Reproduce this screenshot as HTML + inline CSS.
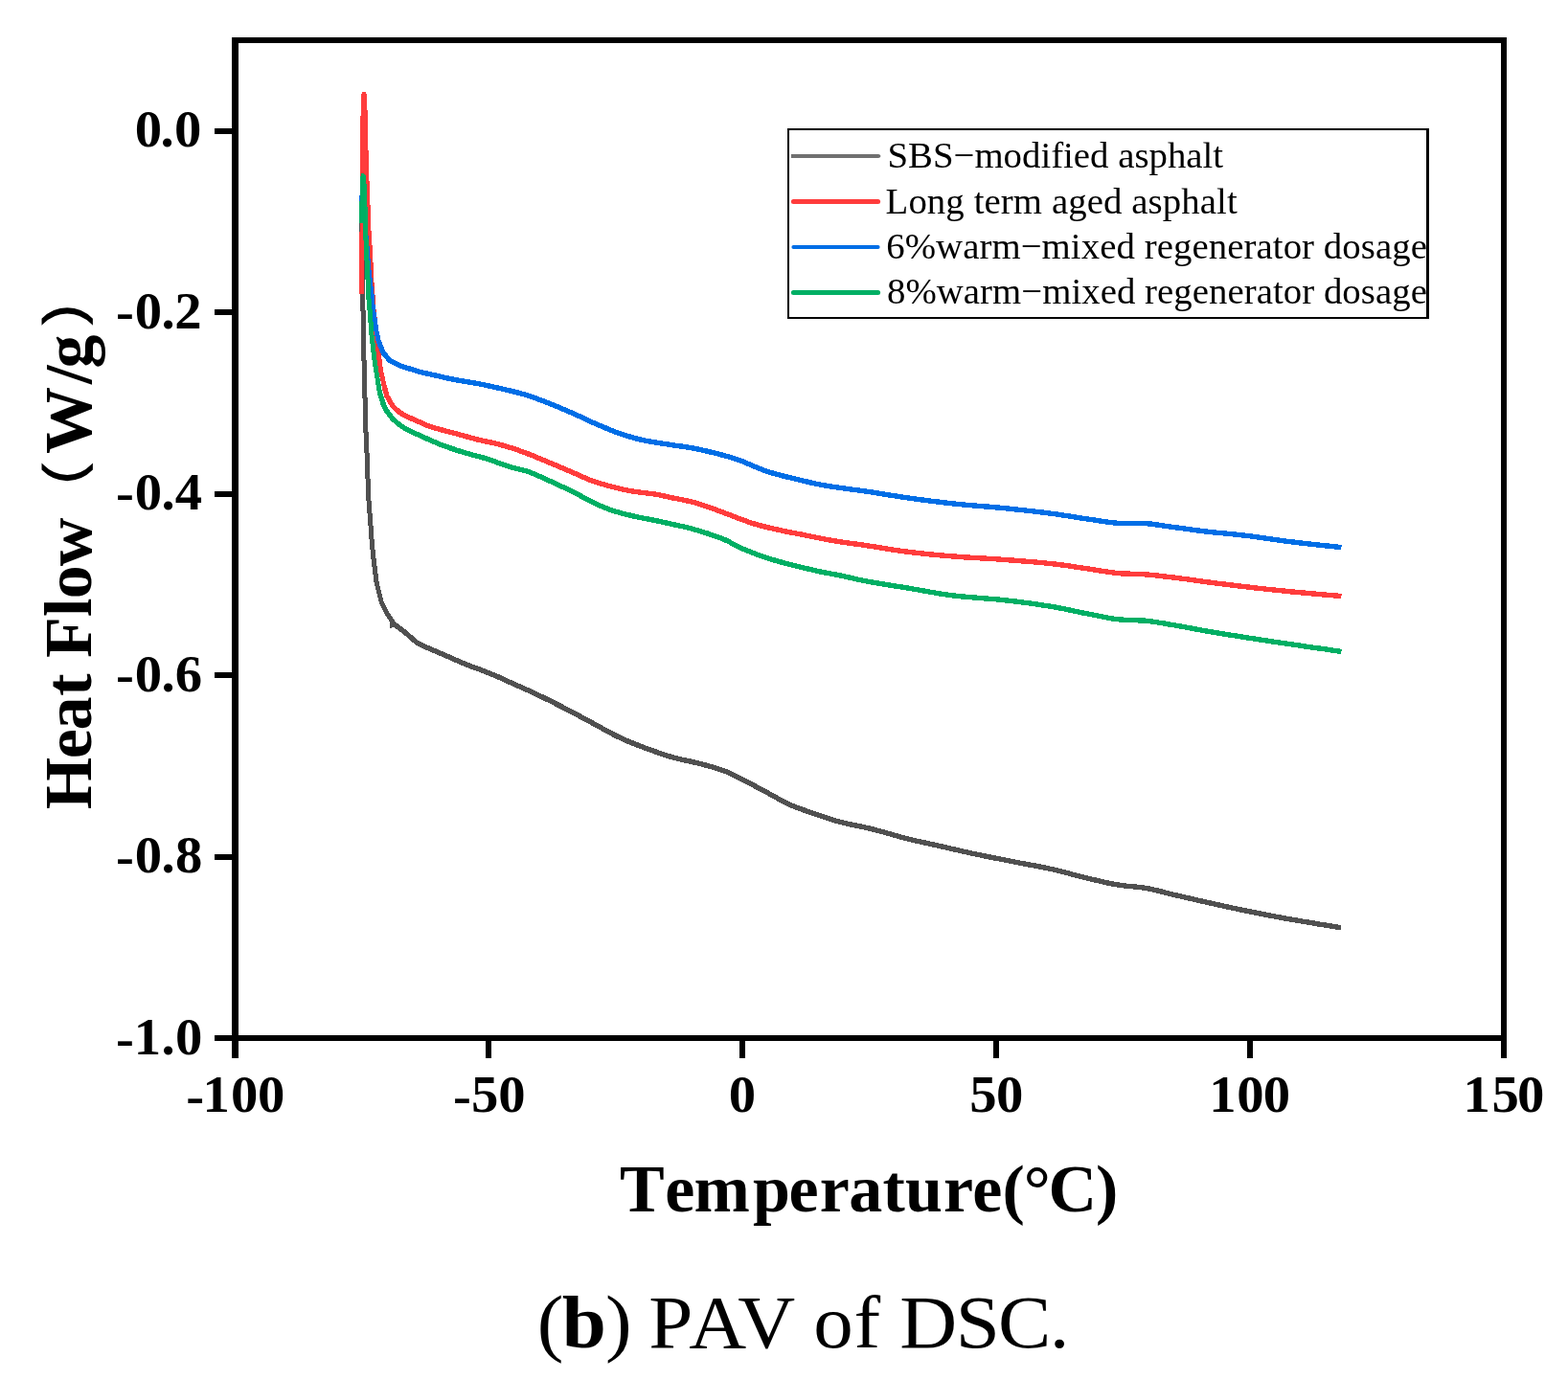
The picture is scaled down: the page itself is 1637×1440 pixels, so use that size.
<!DOCTYPE html>
<html lang="en">
<head>
<meta charset="utf-8">
<title>(b) PAV of DSC.</title>
<style>
html,body{margin:0;padding:0;background:#fff;}
body{width:1637px;height:1440px;}
svg{display:block;}
text{font-family:"Liberation Serif","Noto Serif CJK SC",serif;fill:#000;font-kerning:none;}
.b{font-weight:bold;}
</style>
</head>
<body>
<svg width="1637" height="1440" viewBox="0 0 1637 1440" role="img" aria-label="DSC heat flow versus temperature, PAV aged asphalt">
<rect x="0" y="0" width="1637" height="1440" fill="#fff"/>
<g fill="none" stroke="#505050" stroke-linejoin="round" stroke-linecap="butt" shape-rendering="crispEdges">
<polyline stroke-width="5" points="377.6,233 377.6,244 378.5,262 378.5,322 379.5,327 379.5,374 380.5,379 380.5,413 381.5,418 381.6,440 382.2,456.7 383.4,481.1 384.6,517.8 386.5,542.2 388.3,566.7 390.1,584.4 393.2,608.9 398.1,628.5 404.8,641.9 409.1,648 409.3,655.5"/>
<polyline stroke-width="5.4" points="409.3,655 409.5,652 411.5,651.7 425.6,662.5 430.6,667.3 435.6,671.3 440.6,674 445.6,676.1 450.6,678.3 455.6,680.4 460.6,682.6 465.6,684.7 470.6,686.9 475.6,689.1 480.6,691.3 485.6,693.4 490.6,695.4 495.6,697.2 500.6,699 505.6,700.9 510.5,702.8 515.5,704.9 520.5,707 525.5,709.3 530.5,711.6 535.5,713.9 540.5,716.1 545.5,718.3 550.5,720.5 555.5,722.8 560.5,725.1 565.5,727.5 570.5,730 575.5,732.4 580.5,735 585.5,737.5 590.5,740.1 595.5,742.7 600.5,745.3 605.5,748 610.5,750.7 615.5,753.4 620.5,756.1 625.5,758.8 630.5,761.6 635.5,764.3 640.5,767 645.5,769.5 650.5,771.8 655.5,774 660.5,776 665.5,778 670.4,779.9 675.4,781.7 680.4,783.6 685.4,785.3 690.4,787.1 695.4,788.7 700.4,790.3 705.4,791.6 710.4,792.9 715.4,794 720.4,795 725.4,796.2 730.4,797.4 735.4,798.7 740.4,800 745.4,801.5 750.4,803 755.4,804.7 760.4,806.6 765.4,809 770.4,811.6 775.4,814.3 780.4,816.9 785.4,819.4 790.4,822 795.4,824.6 800.4,827.3 805.4,830.1 810.4,832.9 815.4,835.7 820.4,838.3 825.4,840.6 830.4,842.6 835.3,844.5 840.3,846.3 845.3,848 850.3,849.8 855.3,851.5 860.3,853.2 865.3,854.9 870.3,856.4 875.3,857.9 880.3,859.1 885.3,860.3 890.3,861.4 895.3,862.4 900.3,863.4 905.3,864.5 910.3,865.7 915.3,867 920.3,868.3 925.3,869.8 930.3,871.2 935.3,872.6 940.3,874 945.3,875.3 950.3,876.6 955.3,877.8 960.3,878.9 965.3,880 970.3,881.1 975.3,882.2 980.3,883.3 985.3,884.4 990.3,885.6 995.2,886.7 1000.2,887.8 1005.2,889 1010.2,890.1 1015.2,891.2 1020.2,892.2 1025.2,893.3 1030.2,894.3 1035.2,895.3 1040.2,896.3 1045.2,897.2 1050.2,898.2 1055.2,899.2 1060.2,900.2 1065.2,901.2 1070.2,902.1 1075.2,903.1 1080.2,904 1085.2,905 1090.2,906 1095.2,907 1100.2,908.1 1105.2,909.3 1110.2,910.6 1115.2,911.9 1120.2,913.3 1125.2,914.6 1130.2,915.9 1135.2,917.1 1140.2,918.3 1145.2,919.4 1150.2,920.6 1155.2,921.7 1160.1,922.7 1165.1,923.6 1170.1,924.5 1175.1,925.1 1180.1,925.6 1185.1,926 1190.1,926.5 1195.1,927.2 1200.1,928.1 1205.1,929.2 1210.1,930.4 1215.1,931.7 1220.1,933 1225.1,934.2 1230.1,935.4 1235.1,936.5 1240.1,937.7 1245.1,938.8 1250.1,940 1255.1,941.1 1260.1,942.3 1265.1,943.4 1270.1,944.5 1275.1,945.6 1280.1,946.7 1285.1,947.8 1290.1,948.8 1295.1,949.9 1300.1,950.9 1305.1,951.9 1310.1,952.9 1315.1,953.9 1320,954.9 1325,955.9 1330,956.8 1335,957.8 1340,958.7 1345,959.6 1350,960.5 1355,961.3 1360,962.2 1365,963 1370,963.8 1375,964.7 1380,965.5 1385,966.3 1390,967.1 1395,968 1400,968.8"/>
</g>
<g fill="none" stroke="#ff3c3c" stroke-linejoin="round" stroke-linecap="butt" shape-rendering="crispEdges">
<polyline stroke-width="5" points="377.6,306.5 377.6,244 378.5,240 378.5,123 379.6,119 379.6,100 380.1,98.3 380.5,100 380.5,113 381.5,117 381.5,156 382.6,160 382.6,187 383.5,191 383.5,212 384.5,216 384.5,239 385.4,243 385.4,254 386.3,258 386.3,272 387.5,276 387.5,293 388.3,297 388.3,306 389.5,310 389.5,321 390.3,325 390.3,329 391.5,333 392.3,344 394.3,362.3 397.5,386.8 401.6,405.1 404,413.6"/>
<polyline stroke-width="5.4" points="401.6,405.1 404,413.6 407.5,420 410.5,424.6 413.3,427.3 418.3,431.3 423.3,434.1 428.3,436.5 433.3,438.6 438.3,440.9 443.4,443.2 448.4,445.2 453.4,446.8 458.4,448.2 463.4,449.5 468.4,450.8 473.4,452.1 478.4,453.5 483.4,454.9 488.5,456.3 493.5,457.7 498.5,459 503.5,460.1 508.5,461.2 513.5,462.2 518.5,463.4 523.5,464.7 528.5,466.1 533.6,467.7 538.6,469.3 543.6,471.1 548.6,472.9 553.6,474.8 558.6,476.8 563.6,478.9 568.6,481 573.6,483.1 578.7,485.2 583.7,487.3 588.7,489.4 593.7,491.6 598.7,493.7 603.7,495.9 608.7,498.2 613.7,500.4 618.7,502.4 623.8,504 628.8,505.5 633.8,506.9 638.8,508.2 643.8,509.5 648.8,510.7 653.8,511.8 658.8,512.8 663.9,513.6 668.9,514.2 673.9,514.8 678.9,515.4 683.9,516 688.9,516.9 693.9,518.1 698.9,519.3 703.9,520.3 709,521.2 714,522.2 719,523.3 724,524.5 729,526 734,527.6 739,529.2 744,531 749,532.9 754.1,534.8 759.1,536.7 764.1,538.6 769.1,540.6 774.1,542.4 779.1,544.2 784.1,545.9 789.1,547.5 794.1,548.9 799.2,550.2 804.2,551.4 809.2,552.5 814.2,553.6 819.2,554.7 824.2,555.7 829.2,556.7 834.2,557.6 839.2,558.6 844.3,559.7 849.3,560.7 854.3,561.7 859.3,562.7 864.3,563.6 869.3,564.5 874.3,565.3 879.3,566.1 884.3,566.8 889.4,567.5 894.4,568.2 899.4,568.9 904.4,569.7 909.4,570.4 914.4,571.2 919.4,572 924.4,572.9 929.4,573.7 934.5,574.4 939.5,575.2 944.5,575.8 949.5,576.5 954.5,577.1 959.5,577.6 964.5,578.2 969.5,578.7 974.5,579.2 979.6,579.7 984.6,580.1 989.6,580.5 994.6,580.9 999.6,581.3 1004.6,581.7 1009.6,582 1014.6,582.3 1019.6,582.6 1024.7,582.9 1029.7,583.2 1034.7,583.5 1039.7,583.8 1044.7,584.2 1049.7,584.5 1054.7,584.9 1059.7,585.3 1064.7,585.7 1069.8,586.1 1074.8,586.5 1079.8,586.9 1084.8,587.4 1089.8,587.8 1094.8,588.4 1099.8,588.9 1104.8,589.5 1109.8,590.1 1114.9,590.8 1119.9,591.6 1124.9,592.4 1129.9,593.1 1134.9,593.8 1139.9,594.6 1144.9,595.3 1149.9,596.2 1155,596.9 1160,597.7 1165,598.3 1170,598.8 1175,599.1 1180,599.2 1185,599.4 1190,599.5 1195,599.8 1200.1,600.2 1205.1,600.7 1210.1,601.3 1215.1,601.9 1220.1,602.5 1225.1,603 1230.1,603.7 1235.1,604.3 1240.1,605 1245.2,605.7 1250.2,606.4 1255.2,607.1 1260.2,607.8 1265.2,608.4 1270.2,609.1 1275.2,609.7 1280.2,610.3 1285.2,610.9 1290.3,611.6 1295.3,612.1 1300.3,612.7 1305.3,613.3 1310.3,613.9 1315.3,614.4 1320.3,615 1325.3,615.5 1330.3,616 1335.4,616.5 1340.4,617.1 1345.4,617.6 1350.4,618.1 1355.4,618.5 1360.4,619 1365.4,619.5 1370.4,619.9 1375.4,620.4 1380.5,620.8 1385.5,621.3 1390.5,621.7 1395.5,622.1 1400.5,622.6"/>
</g>
<g fill="none" stroke="#006ee6" stroke-linejoin="round" stroke-linecap="butt" shape-rendering="crispEdges">
<polyline stroke-width="5" points="377.6,226 377.6,206 378.2,203.5 378.8,206 380.3,216 381.3,240 382.5,250 384.8,280 388.1,308 389.4,323 391.5,335 392.6,344 395.2,356.2 400.1,368.4"/>
<polyline stroke-width="5.4" points="395.2,356.2 400.1,368.4 406.8,376.4 417.2,381.8 422.2,383.4 427.2,384.9 432.2,386.4 437.2,388 442.2,389.3 447.1,390.4 452.1,391.5 457.1,392.6 462.1,393.8 467.1,394.9 472.1,396 477.1,396.9 482.1,397.8 487.1,398.6 492.1,399.4 497.1,400.3 502.1,401.2 507,402.3 512,403.3 517,404.4 522,405.6 527,406.7 532,407.9 537,409.1 542,410.4 547,411.8 552,413.3 557,415 561.9,416.8 566.9,418.7 571.9,420.6 576.9,422.6 581.9,424.7 586.9,426.8 591.9,428.9 596.9,431.1 601.9,433.3 606.9,435.6 611.9,437.9 616.9,440.3 621.8,442.5 626.8,444.6 631.8,446.7 636.8,448.8 641.8,450.8 646.8,452.6 651.8,454.2 656.8,455.8 661.8,457.3 666.8,458.6 671.8,459.8 676.8,460.8 681.7,461.6 686.7,462.4 691.7,463.2 696.7,463.9 701.7,464.7 706.7,465.4 711.7,466.1 716.7,466.9 721.7,467.7 726.7,468.6 731.7,469.7 736.6,470.8 741.6,472 746.6,473.2 751.6,474.5 756.6,475.8 761.6,477.3 766.6,478.8 771.6,480.4 776.6,482.3 781.6,484.5 786.6,486.8 791.6,488.8 796.5,490.7 801.5,492.4 806.5,494 811.5,495.4 816.5,496.8 821.5,498 826.5,499.2 831.5,500.4 836.5,501.6 841.5,502.8 846.5,504 851.4,505.1 856.4,506.1 861.4,507 866.4,507.9 871.4,508.6 876.4,509.3 881.4,510 886.4,510.7 891.4,511.4 896.4,512 901.4,512.7 906.4,513.4 911.3,514.2 916.3,515 921.3,515.8 926.3,516.6 931.3,517.4 936.3,518.2 941.3,519 946.3,519.7 951.3,520.4 956.3,521.1 961.3,521.8 966.3,522.4 971.2,523.1 976.2,523.7 981.2,524.3 986.2,524.9 991.2,525.5 996.2,526 1001.2,526.5 1006.2,527 1011.2,527.5 1016.2,527.9 1021.2,528.3 1026.1,528.7 1031.1,529.1 1036.1,529.5 1041.1,530 1046.1,530.4 1051.1,530.9 1056.1,531.5 1061.1,532 1066.1,532.5 1071.1,533.1 1076.1,533.6 1081.1,534.2 1086,534.8 1091,535.4 1096,536.1 1101,536.7 1106,537.4 1111,538.2 1116,539 1121,539.8 1126,540.6 1131,541.4 1136,542.1 1140.9,542.8 1145.9,543.6 1150.9,544.4 1155.9,545.1 1160.9,545.7 1165.9,546.2 1170.9,546.5 1175.9,546.5 1180.9,546.5 1185.9,546.5 1190.9,546.5 1195.9,546.6 1200.8,547 1205.8,547.7 1210.8,548.4 1215.8,549.2 1220.8,549.9 1225.8,550.6 1230.8,551.2 1235.8,551.9 1240.8,552.6 1245.8,553.3 1250.8,554 1255.8,554.6 1260.7,555.2 1265.7,555.8 1270.7,556.3 1275.7,556.7 1280.7,557.2 1285.7,557.7 1290.7,558.2 1295.7,558.7 1300.7,559.3 1305.7,559.9 1310.7,560.6 1315.6,561.3 1320.6,562 1325.6,562.7 1330.6,563.5 1335.6,564.2 1340.6,564.9 1345.6,565.5 1350.6,566.1 1355.6,566.7 1360.6,567.3 1365.6,567.9 1370.6,568.4 1375.5,568.9 1380.5,569.5 1385.5,570 1390.5,570.5 1395.5,571.1 1400.5,571.6"/>
</g>
<g fill="none" stroke="#00af64" stroke-linejoin="round" stroke-linecap="butt" shape-rendering="crispEdges">
<polyline stroke-width="5" points="377.6,233 377.6,212 378.6,208 378.6,186 379.1,183.5 379.5,186 379.5,190 380.5,194 380.5,214 381.5,218 381.5,249 382.6,253 382.8,271 383.7,275 383.7,290 384.7,294 384.7,311 385.7,315 385.7,322 386.6,326 386.6,335 387.6,339 387.6,346 390.8,374.6 394.6,399 396.6,411 400.2,422.1"/>
<polyline stroke-width="5.4" points="396.6,411 400.2,422.1 403.9,429.4 409.4,436.8 416.8,443.4 421.8,446.7 426.8,449.6 431.8,451.9 436.8,454 441.8,456.3 446.8,458.6 451.8,460.8 456.7,462.9 461.7,464.9 466.7,466.7 471.7,468.4 476.7,470.1 481.7,471.7 486.7,473.2 491.7,474.6 496.7,475.9 501.7,477.2 506.7,478.6 511.7,480.1 516.7,482 521.7,483.9 526.7,485.7 531.6,487.3 536.6,488.6 541.6,489.8 546.6,491.1 551.6,492.6 556.6,494.4 561.6,496.6 566.6,498.9 571.6,501.2 576.6,503.5 581.6,505.7 586.6,508.1 591.6,510.4 596.6,512.8 601.6,515.3 606.5,518 611.5,520.7 616.5,523.3 621.5,525.7 626.5,528.1 631.5,530.2 636.5,532.1 641.5,533.8 646.5,535.2 651.5,536.6 656.5,537.8 661.5,539 666.5,540.1 671.5,541.1 676.5,542 681.5,543 686.4,544 691.4,545.1 696.4,546.2 701.4,547.3 706.4,548.4 711.4,549.5 716.4,550.6 721.4,551.9 726.4,553.3 731.4,554.8 736.4,556.3 741.4,558 746.4,559.7 751.4,561.5 756.4,563.5 761.3,565.8 766.3,568.7 771.3,571.2 776.3,573.5 781.3,575.5 786.3,577.5 791.3,579.4 796.3,581.2 801.3,582.8 806.3,584.4 811.3,585.8 816.3,587.2 821.3,588.6 826.3,589.8 831.3,591.1 836.2,592.3 841.2,593.5 846.2,594.6 851.2,595.8 856.2,596.9 861.2,597.9 866.2,598.8 871.2,599.8 876.2,600.7 881.2,601.8 886.2,602.9 891.2,604.1 896.2,605.2 901.2,606.2 906.2,607.2 911.1,608.1 916.1,609 921.1,609.8 926.1,610.6 931.1,611.4 936.1,612.2 941.1,613 946.1,613.8 951.1,614.7 956.1,615.5 961.1,616.4 966.1,617.3 971.1,618.2 976.1,619 981.1,619.9 986,620.6 991,621.4 996,622 1001,622.6 1006,623 1011,623.5 1016,623.9 1021,624.3 1026,624.7 1031,625.1 1036,625.5 1041,625.9 1046,626.4 1051,627 1056,627.5 1060.9,628.1 1065.9,628.8 1070.9,629.4 1075.9,630.1 1080.9,630.8 1085.9,631.6 1090.9,632.3 1095.9,633.1 1100.9,633.9 1105.9,634.9 1110.9,635.8 1115.9,636.9 1120.9,638 1125.9,639 1130.9,640.1 1135.8,641 1140.8,642 1145.8,643 1150.8,644 1155.8,645 1160.8,645.9 1165.8,646.6 1170.8,647.1 1175.8,647.4 1180.8,647.6 1185.8,647.7 1190.8,647.9 1195.8,648.2 1200.8,648.7 1205.8,649.5 1210.8,650.3 1215.7,651.1 1220.7,652 1225.7,652.8 1230.7,653.7 1235.7,654.6 1240.7,655.5 1245.7,656.5 1250.7,657.4 1255.7,658.3 1260.7,659.2 1265.7,660.1 1270.7,660.9 1275.7,661.7 1280.7,662.5 1285.7,663.3 1290.6,664.1 1295.6,664.9 1300.6,665.7 1305.6,666.5 1310.6,667.2 1315.6,668 1320.6,668.8 1325.6,669.5 1330.6,670.3 1335.6,671 1340.6,671.7 1345.6,672.5 1350.6,673.2 1355.6,673.9 1360.6,674.7 1365.5,675.4 1370.5,676.1 1375.5,676.8 1380.5,677.5 1385.5,678.2 1390.5,679 1395.5,679.7 1400.5,680.4"/>
</g>
<g fill="#000" shape-rendering="crispEdges">
<rect x="242" y="39" width="7" height="1048"/>
<rect x="1567" y="39" width="6" height="1048"/>
<rect x="242" y="39" width="1331" height="6"/>
<rect x="242" y="1081" width="1331" height="6"/>
<rect x="242" y="1087" width="7" height="18"/>
<rect x="507" y="1087" width="6" height="18"/>
<rect x="772" y="1087" width="6" height="18"/>
<rect x="1037" y="1087" width="6" height="18"/>
<rect x="1302" y="1087" width="6" height="18"/>
<rect x="1567" y="1087" width="6" height="18"/>
<rect x="224" y="134" width="18" height="6"/>
<rect x="224" y="323" width="18" height="6"/>
<rect x="224" y="513" width="18" height="6"/>
<rect x="224" y="702" width="18" height="6"/>
<rect x="224" y="892" width="18" height="6"/>
<rect x="224" y="1081" width="18" height="6"/>
</g>
<g class="b" font-size="54">
<text transform="translate(0 152.7) scale(1.05 1)" x="134.0 159.5 173.3" y="0 0 0">0.0</text>
<text transform="translate(0 342.6) scale(1.05 1)" x="115.3 134.0 160.4 173.5" y="1.8 0 0 0">-0.2</text>
<text transform="translate(0 531.6) scale(1.05 1)" x="115.3 134.0 160.4 174.1" y="1.8 0 0 0">-0.4</text>
<text transform="translate(0 721.5) scale(1.05 1)" x="115.3 134.0 160.4 174.1" y="1.8 0 0 0">-0.6</text>
<text transform="translate(0 910.7) scale(1.05 1)" x="115.3 134.0 160.4 174.2" y="1.8 0 0 0">-0.8</text>
<text transform="translate(0 1100.7) scale(1.05 1)" x="115.3 133.0 160.4 174.2" y="1.8 0 0 0">-1.0</text>
<text transform="translate(0 1160.7) scale(1.05 1)" x="184.9 201.4 229.6 256.1" y="1.8 0 0 0">-100</text>
<text transform="translate(0 1160.7) scale(1.05 1)" x="450.4 468.5 495.4" y="1.8 0 0">-50</text>
<text transform="translate(0 1160.7) scale(1.05 1)" x="724.6" y="0">0</text>
<text transform="translate(0 1160.7) scale(1.05 1)" x="964.0 990.6" y="0 0">50</text>
<text transform="translate(0 1160.7) scale(1.05 1)" x="1202.2 1229.7 1256.0" y="0 0 0">100</text>
<text transform="translate(0 1160.7) scale(1.05 1)" x="1454.8 1483.3 1508.5" y="0 0 0">150</text>
</g>
<text class="b" font-size="70" x="647.0 694.3 724.5 785.9 823.5 855.8 886.3 921.5 945.0 984.9 1015.2 1046.5 1068.8 1094.6 1144.1" y="1265">Temperature(°C)</text>
<text class="b" font-size="70" transform="translate(94.9 846.0) rotate(-90)" x="0.7 53.7 83.6 119.3 149.3 159.1 202.0 220.8 254.8 307.0 371.9 445.0 461.6 503.9" y="0.0 0.0 0.0 0.0 0.0 0.0 0.0 0.0 0.0 -3.1 0.0 0.0 0.0 -3.1">Heat Flow<tspan font-size="57.6" font-family="&quot;Liberation Serif&quot;,&quot;IPAGothic&quot;,serif">（</tspan>W/g<tspan font-size="57.6" font-family="&quot;Liberation Serif&quot;,&quot;IPAGothic&quot;,serif">）</tspan></text>
<g fill="#000" shape-rendering="crispEdges">
<rect x="822" y="134" width="670" height="2"/>
<rect x="822" y="331" width="670" height="2"/>
<rect x="822" y="134" width="2" height="199"/>
<rect x="1489" y="134" width="3" height="199"/>
</g>
<g fill="none" stroke-linecap="round">
<line x1="826" y1="163" x2="917.5" y2="163" stroke="#707070" stroke-width="4" stroke-linecap="butt"/>
<line x1="917" y1="163" x2="917.6" y2="163" stroke="#707070" stroke-width="3.6"/>
<line x1="828.4" y1="210.5" x2="916.6" y2="210.5" stroke="#ff3c3c" stroke-width="5"/>
<line x1="828.4" y1="258" x2="916.6" y2="258" stroke="#006ee6" stroke-width="4"/>
<line x1="828.4" y1="305.5" x2="916.6" y2="305.5" stroke="#00af64" stroke-width="5"/>
</g>
<g font-size="38.8" style="font-kerning:auto">
<text x="926.5" y="175">SBS−modified asphalt</text>
<text x="924.6" y="222.6" letter-spacing="0.09">Long term aged asphalt</text>
<text x="925.2" y="270" letter-spacing="0.07">6%warm−mixed regenerator dosage</text>
<text x="926" y="317.4" letter-spacing="0.04">8%warm−mixed regenerator dosage</text>
</g>
<text font-size="79" transform="translate(0 1406.5) scale(1.05 1)" x="534.1 558.8 601.8 641.3 644.9 684.9 733.6 773.1 808.8 849.1 888.6 894.6 950.2 992.4 1043.6" y="0">(<tspan class="b">b</tspan>) PAV of DSC.</text>
</svg>
</body>
</html>
